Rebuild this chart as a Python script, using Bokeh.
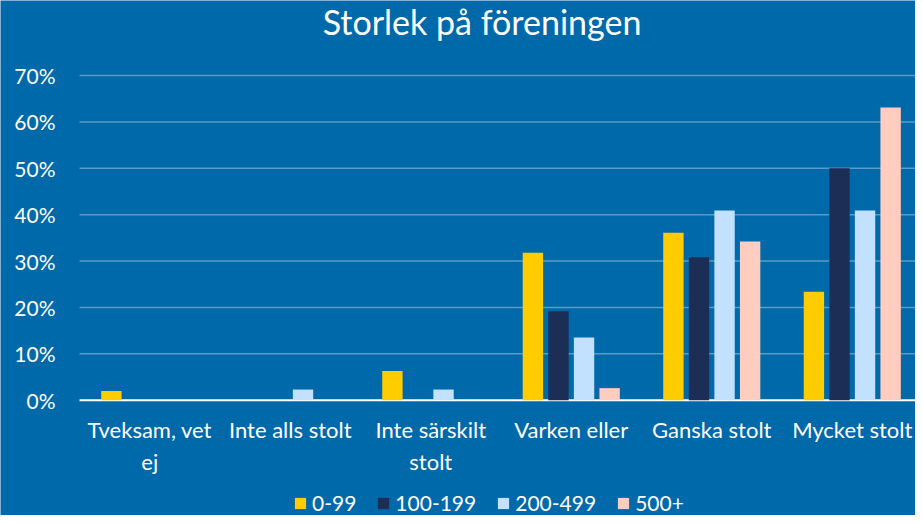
from bokeh.plotting import figure
from bokeh.models import Range1d, ColumnDataSource, Legend, LegendItem
from bokeh.transform import dodge
from bokeh.core.properties import value
from bokeh.embed import file_html
from bokeh.resources import INLINE

title_text = "Storlek på föreningen"
categories = ["Tveksam, vet\nej", "Inte alls stolt", "Inte särskilt\nstolt",
              "Varken eller", "Ganska stolt", "Mycket stolt"]
series_names = ["0-99", "100-199", "200-499", "500+"]
v_0_99 = [2.0, 0.0, 6.3, 31.8, 36.1, 23.4]
v_100_199 = [0.0, 0.0, 0.0, 19.2, 30.8, 50.0]
v_200_499 = [0.0, 2.3, 2.3, 13.5, 40.9, 40.9]
v_500 = [0.0, 0.0, 0.0, 2.6, 34.2, 63.1]
y_ticks = [0, 10, 20, 30, 40, 50, 60, 70]
y_tick_labels = [f"{t}%" for t in y_ticks]

colors = ["#FFCC00", "#1C2E56", "#C2E0FF", "#FFCDC0"]
BG = "#0069AA"
FONT = "Lato"

# geometry (pixels within the 915x515 figure; the frame fills the figure)
W, H = 915, 515
LEFT = 79                              # plot area starts here
Y0_PX, Y70_PX = 399.7, 75.0            # screen y of 0% and 70%
UPP = 70.0 / (Y0_PX - Y70_PX)          # data units per pixel (y)
y_top = 70 + Y70_PX * UPP
y_bot = -(H - Y0_PX) * UPP
X_END = 5.95
XPP = X_END / (W - LEFT)               # data units per pixel (x)
x_start = -LEFT * XPP

xpos = [i + 0.5 for i in range(len(categories))]
src = ColumnDataSource(dict(x=xpos, a=v_0_99, b=v_100_199, c=v_200_499, d=v_500))

p = figure(width=W, height=H, output_backend="svg", toolbar_location=None,
           x_range=Range1d(x_start, X_END), y_range=Range1d(y_bot, y_top),
           min_border=0)
p.background_fill_color = BG
p.border_fill_color = BG
p.outline_line_color = None
p.xaxis.visible = False
p.yaxis.visible = False
p.grid.visible = False

# gridlines (from the tick values) and baseline
p.segment(x0=0, x1=X_END, y0=y_ticks[1:], y1=y_ticks[1:],
          line_color="white", line_alpha=0.35, line_width=1.5)
p.segment(x0=[0], x1=[X_END], y0=[0], y1=[0], line_color="white", line_width=2)

offsets = [-0.273, -0.091, 0.091, 0.273]
renderers = []
for col, off, c in zip(["a", "b", "c", "d"], offsets, colors):
    r = p.vbar(x=dodge("x", off), top=col, width=0.145, source=src,
               fill_color=c, line_color=None)
    renderers.append(r)

# y tick labels
p.text(x=(55 - LEFT) * XPP, y=y_ticks, text=y_tick_labels,
       text_align="right", text_baseline="middle", text_color="white",
       text_font=value(FONT), text_font_size="21px")

# category labels
line1 = [c.split("\n")[0] for c in categories]
line2 = [c.split("\n")[1] if "\n" in c else "" for c in categories]
lab_src = ColumnDataSource(dict(x=xpos, t1=line1, t2=line2))
p.text(x="x", y=-(429.3 - Y0_PX) * UPP, text="t1", source=lab_src,
       text_align="center", text_baseline="alphabetic", text_color="white",
       text_font=value(FONT), text_font_size="22px")
p.text(x="x", y=-(461.3 - Y0_PX) * UPP, text="t2", source=lab_src,
       text_align="center", text_baseline="alphabetic", text_color="white",
       text_font=value(FONT), text_font_size="22px")

# title
p.text(x=[(481.5 - LEFT) * XPP], y=[70 + (Y70_PX - 20.5) * UPP],
       text=[title_text], text_align="center", text_baseline="alphabetic",
       text_color="white", text_font=value(FONT), text_font_size="34px")

legend = Legend(items=[LegendItem(label=n, renderers=[r]) for n, r in zip(series_names, renderers)],
                orientation="horizontal", location=(293, 0),
                background_fill_alpha=0, border_line_color=None,
                glyph_width=14, glyph_height=14, label_standoff=5, spacing=20,
                padding=0, margin=0,
                label_text_color="white", label_text_font=FONT, label_text_font_size="21px")
p.add_layout(legend, "center")

open("out.html", "w").write(file_html(p, INLINE))
